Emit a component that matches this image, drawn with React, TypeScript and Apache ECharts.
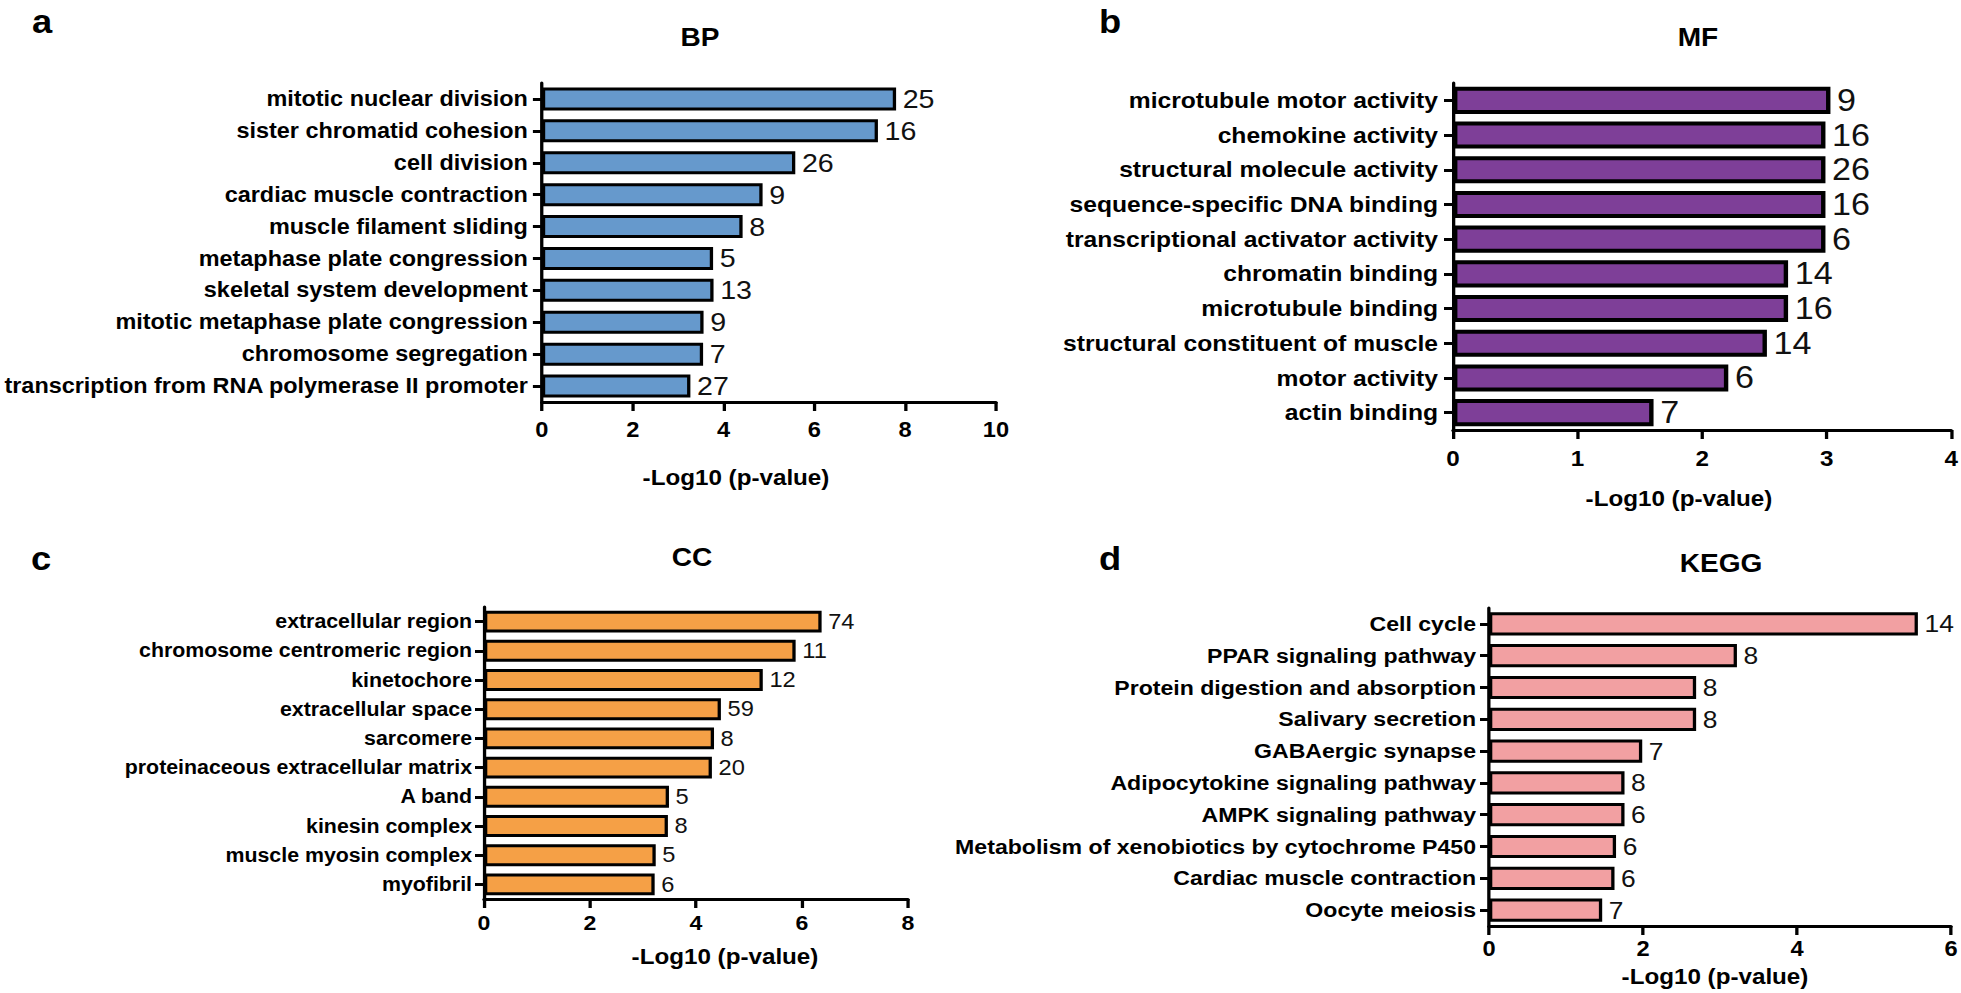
import React, { useEffect, useRef } from "react";
import * as echarts from "echarts";

// ---------- data ----------
const bpTerms = [
  "mitotic nuclear division",
  "sister chromatid cohesion",
  "cell division",
  "cardiac muscle contraction",
  "muscle filament sliding",
  "metaphase plate congression",
  "skeletal system development",
  "mitotic metaphase plate congression",
  "chromosome segregation",
  "transcription from RNA polymerase II promoter",
];
const bpValues = [7.8, 7.4, 5.58, 4.86, 4.42, 3.77, 3.78, 3.56, 3.55, 3.27];
const bpCounts = [25, 16, 26, 9, 8, 5, 13, 9, 7, 27];

const mfTerms = [
  "microtubule motor activity",
  "chemokine activity",
  "structural molecule activity",
  "sequence-specific DNA binding",
  "transcriptional activator activity",
  "chromatin binding",
  "microtubule binding",
  "structural constituent of muscle",
  "motor activity",
  "actin binding",
];
const mfValues = [3.03, 2.99, 2.99, 2.99, 2.99, 2.69, 2.69, 2.52, 2.21, 1.61];
const mfCounts = [9, 16, 26, 16, 6, 14, 16, 14, 6, 7];

const ccTerms = [
  "extracellular region",
  "chromosome centromeric region",
  "kinetochore",
  "extracellular space",
  "sarcomere",
  "proteinaceous extracellular matrix",
  "A band",
  "kinesin complex",
  "muscle myosin complex",
  "myofibril",
];
const ccValues = [6.37, 5.88, 5.26, 4.47, 4.34, 4.3, 3.49, 3.47, 3.24, 3.22];
const ccCounts = [74, 11, 12, 59, 8, 20, 5, 8, 5, 6];

const keggTerms = [
  "Cell cycle",
  "PPAR signaling pathway",
  "Protein digestion and absorption",
  "Salivary secretion",
  "GABAergic synapse",
  "Adipocytokine signaling pathway",
  "AMPK signaling pathway",
  "Metabolism of xenobiotics by cytochrome P450",
  "Cardiac muscle contraction",
  "Oocyte meiosis",
];
const keggValues = [5.57, 3.22, 2.69, 2.69, 1.99, 1.76, 1.76, 1.65, 1.63, 1.47];
const keggCounts = [14, 8, 8, 8, 7, 8, 6, 6, 6, 7];

const panelTitles = ["BP", "MF", "CC", "KEGG"];
const panelLetters = ["a", "b", "c", "d"];
const axisMax = [10, 4, 8, 6];
const axisInterval = [2, 1, 2, 2];
const axisTitle = "-Log10 (p-value)";

// ---------- layout ----------
const S = 1.1; // horizontal stretch of the original figure
const W = 1961 / S;
const H = 993;
const sx = (x: number) => x / S;
const FONT = "Liberation Sans, Arial, Helvetica, sans-serif";
const NARROW = "Liberation Sans Narrow, Arial Narrow, Liberation Sans, Arial, sans-serif";

const panels = [
  {
    terms: bpTerms, values: bpValues, counts: bpCounts, color: "#6699CC",
    x0: 534, x1: 996, top: 83, bottom: 402, barW: "72%", border: 3,
    catFont: 21.3, valFont: 26, tickFont: 21.5, tickMargin: 17, labMargin: 14,
    title: [700, 37], letter: [32, 22], name: [736, 477],
  },
  {
    terms: mfTerms, values: mfValues, counts: mfCounts, color: "#7E3F98",
    x0: 1453, x1: 1953, top: 83, bottom: 430, barW: "78%", border: 4,
    catFont: 22.4, valFont: 31, tickFont: 22, tickMargin: 17, labMargin: 15,
    title: [1698, 37], letter: [1099, 22], name: [1679, 498],
  },
  {
    terms: ccTerms, values: ccValues, counts: ccCounts, color: "#F5A046",
    x0: 484, x1: 908, top: 607, bottom: 899, barW: "75%", border: 3,
    catFont: 19.4, valFont: 21.5, tickFont: 21, tickMargin: 13, labMargin: 12,
    title: [692, 557], letter: [31, 559], name: [725, 956],
  },
  {
    terms: keggTerms, values: keggValues, counts: keggCounts, color: "#F2A0A2",
    x0: 1489, x1: 1951, top: 608, bottom: 926, barW: "73%", border: 3,
    catFont: 21, valFont: 24, tickFont: 21.5, tickMargin: 12, labMargin: 13,
    title: [1721, 563], letter: [1099, 559], name: [1715, 976],
  },
];

function buildOption() {
  const grid: any[] = [];
  const xAxis: any[] = [];
  const yAxis: any[] = [];
  const series: any[] = [];
  const graphic: any[] = [];

  panels.forEach((p, i) => {
    grid.push({
      left: sx(p.x0),
      width: sx(p.x1 - p.x0),
      top: p.top,
      height: p.bottom - p.top,
      containLabel: false,
    });
    xAxis.push({
      type: "value",
      gridIndex: i,
      min: 0,
      max: axisMax[i],
      interval: axisInterval[i],
      splitLine: { show: false },
      axisLine: { show: true, lineStyle: { color: "#000", width: 3 } },
      axisTick: { show: true, length: 9, lineStyle: { color: "#000", width: 3 } },
      axisLabel: {
        color: "#000",
        fontFamily: FONT,
        fontWeight: "bold",
        fontSize: p.tickFont,
        margin: p.tickMargin,
      },
    });
    yAxis.push({
      type: "category",
      gridIndex: i,
      inverse: true,
      data: p.terms,
      axisLine: { show: true, onZero: false, lineStyle: { color: "#000", width: 3 } },
      axisTick: {
        show: true,
        alignWithLabel: true,
        length: sx(9),
        lineStyle: { color: "#000", width: 3 },
      },
      axisLabel: {
        color: "#000",
        fontFamily: FONT,
        fontWeight: "bold",
        fontSize: p.catFont,
        margin: sx(p.labMargin),
      },
    });
    series.push({
      type: "bar",
      xAxisIndex: i,
      yAxisIndex: i,
      data: p.values,
      barWidth: p.barW,
      itemStyle: { color: p.color, borderColor: "#000", borderWidth: p.border },
      label: {
        show: true,
        position: "right",
        distance: 6,
        color: "#111",
        fontFamily: NARROW,
        fontWeight: "normal",
        fontSize: p.valFont,
        formatter: (d: any) => String(p.counts[d.dataIndex]),
      },
    });
    const txt = (x: number, y: number, text: string, size: number, align: string) => ({
      type: "text",
      x,
      y,
      style: {
        text,
        fill: "#000",
        fontFamily: FONT,
        fontWeight: "bold",
        fontSize: size,
        align,
        verticalAlign: "middle",
        textAlign: align,
        textVerticalAlign: "middle",
      },
    });
    graphic.push(txt(sx(p.letter[0]), p.letter[1], panelLetters[i], 33, "left"));
    graphic.push(txt(sx(p.title[0]), p.title[1], panelTitles[i], 25.5, "center"));
    graphic.push(txt(sx(p.name[0]), p.name[1], axisTitle, 22, "center"));
  });

  return {
    animation: false,
    backgroundColor: "#fff",
    grid,
    xAxis,
    yAxis,
    series,
    graphic,
  };
}

export default function App() {
  const ref = useRef<HTMLDivElement>(null);
  useEffect(() => {
    if (!ref.current) return;
    const chart = echarts.init(ref.current, undefined, { renderer: "svg" });
    chart.setOption(buildOption());
    return () => chart.dispose();
  }, []);
  return (
    <div
      style={{
        position: "fixed",
        left: 0,
        top: 0,
        width: 1961,
        height: H,
        overflow: "hidden",
        background: "#fff",
      }}
    >
      <div
        ref={ref}
        style={{
          width: W,
          height: H,
          transform: `scaleX(${S})`,
          transformOrigin: "0 0",
        }}
      />
    </div>
  );
}
